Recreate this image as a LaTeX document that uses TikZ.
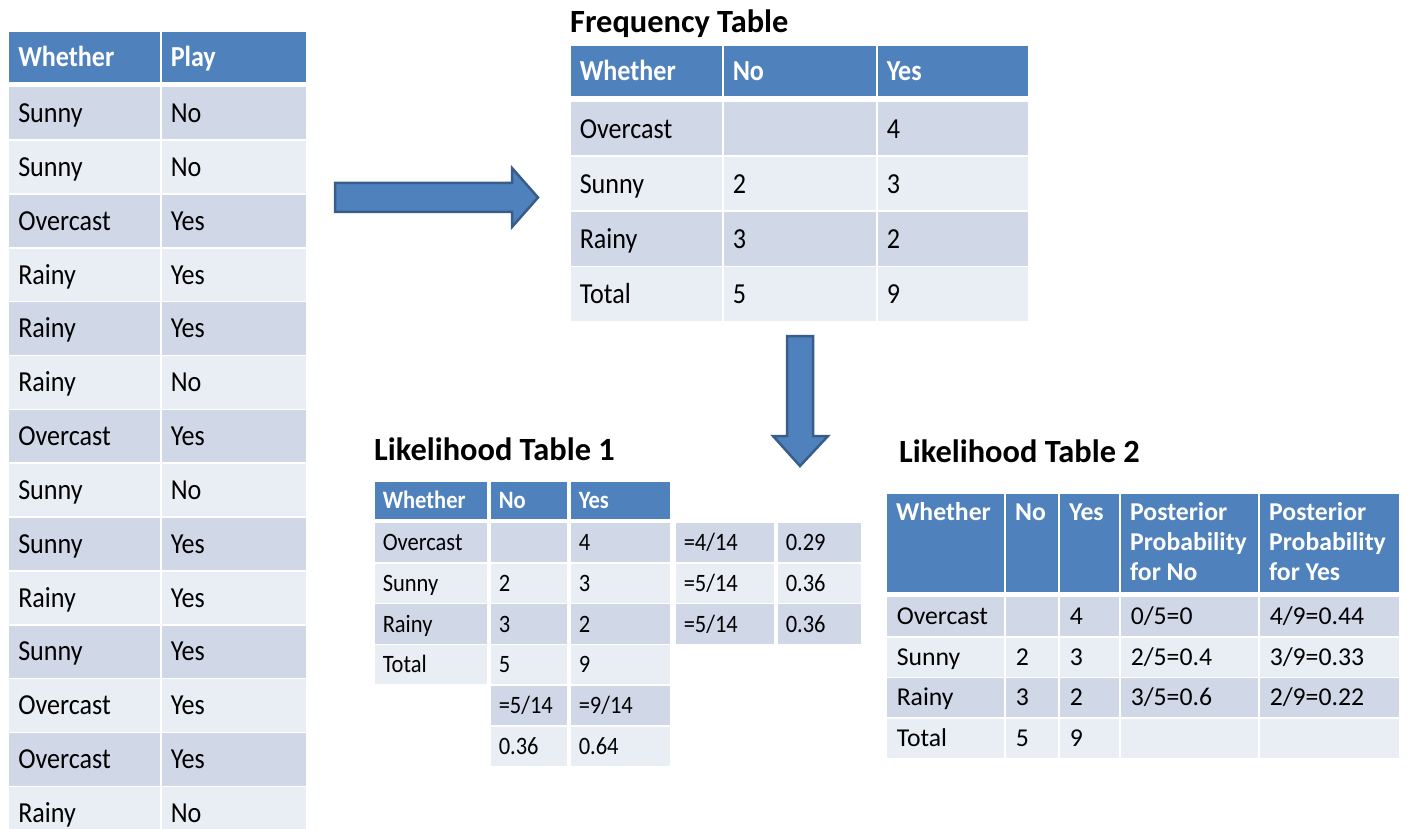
\documentclass[tikz,border=0pt]{standalone}
\usepackage{fontspec}
\setmainfont{Carlito}
\newfontfamily\fS[FakeStretch=0.9]{Carlito}
\definecolor{hdr}{HTML}{4F81BD}
\definecolor{dk}{HTML}{D0D8E8}
\definecolor{lt}{HTML}{E9EDF4}
\definecolor{arrowline}{HTML}{385D8A}
\newcommand{\cel}[7]{%
  \pgfmathsetmacro\ch{#5-#3}%
  \pgfmathsetmacro\tw{#4-#2-20}%
  \node[cell, fill=#6, text width=\tw pt, minimum height=\ch pt] (#1) at (#2,#3) {#7};}
\newcommand{\hd}[1]{{\color{white}\bfseries #1}}
\begin{document}
\begin{tikzpicture}[x=1pt,y=-1pt,
  cell/.style={anchor=north west, draw=white, line width=1.5pt, inner xsep=10pt, inner ysep=0pt, text depth=0pt, align=left},
  title/.style={anchor=base west, inner sep=0pt, font=\bfseries\fontsize{32.4}{36}\selectfont},
  hl/.style={anchor=base west, inner sep=0pt, text=white, font=\bfseries\fontsize{25.7}{30}\selectfont},
  blockarrow/.style={fill=hdr, draw=arrowline, line width=2.5pt, line join=miter}]
\useasboundingbox (0,0) rectangle (1411,829);
\clip (0,0) rectangle (1411,829);

% ---------- left data table ----------
\begin{scope}[cell/.append style={font=\fS\fontsize{29}{32}\selectfont, text height=18.6pt}]
  \cel{LHa}{7.5}{31}{160}{82.5}{hdr}{\hd{Whether}}
  \cel{LHb}{160}{31}{305.5}{82.5}{hdr}{\hd{Play}}
  \foreach \w/\p [count=\i from 0] in {Sunny/No, Sunny/No, Overcast/Yes, Rainy/Yes, Rainy/Yes, Rainy/No, Overcast/Yes, Sunny/No, Sunny/Yes, Rainy/Yes, Sunny/Yes, Overcast/Yes, Overcast/Yes, Rainy/No}{
    \pgfmathsetmacro\ya{85.5+53.85*\i}
    \pgfmathsetmacro\yb{\ya+53.85}
    \ifodd\i \def\rc{lt}\else\def\rc{dk}\fi
    \cel{La\i}{7.5}{\ya}{160}{\yb}{\rc}{\w}
    \cel{Lb\i}{160}{\ya}{305.5}{\yb}{\rc}{\p}
  }
\end{scope}

% ---------- frequency table ----------
\node[title] (tF) at (570,33) {Frequency Table};
\begin{scope}[cell/.append style={font=\fS\fontsize{29}{32}\selectfont, text height=18.6pt}]
  \cel{FHa}{569}{44.5}{722}{96}{hdr}{\hd{Whether}}
  \cel{FHb}{722}{44.5}{876}{96}{hdr}{\hd{No}}
  \cel{FHc}{876}{44.5}{1028}{96}{hdr}{\hd{Yes}}
  \foreach \w/\n/\y [count=\i from 0] in {Overcast//4, Sunny/2/3, Rainy/3/2, Total/5/9}{
    \pgfmathsetmacro\ya{100.5+55*\i}
    \pgfmathsetmacro\yb{\ya+55}
    \ifodd\i \def\rc{lt}\else\def\rc{dk}\fi
    \cel{Fa\i}{569}{\ya}{722}{\yb}{\rc}{\w}
    \cel{Fb\i}{722}{\ya}{876}{\yb}{\rc}{\n}
    \cel{Fc\i}{876}{\ya}{1028}{\yb}{\rc}{\y}
  }
\end{scope}

% ---------- likelihood table 1 ----------
\node[title] (tL1) at (374,460) {Likelihood Table 1};
\begin{scope}[cell/.append style={font=\fS\fontsize{25}{28}\selectfont, text height=16.1pt, inner xsep=9pt}]
  \cel{AHa}{373}{480}{489}{518.5}{hdr}{\hd{Whether}}
  \cel{AHb}{489}{480}{569}{518.5}{hdr}{\hd{No}}
  \cel{AHc}{569}{480}{672}{518.5}{hdr}{\hd{Yes}}
  \foreach \w/\n/\y/\f/\v [count=\i from 0] in {Overcast//4/=4\slash 14/0.29, Sunny/2/3/=5\slash 14/0.36, Rainy/3/2/=5\slash 14/0.36}{
    \pgfmathsetmacro\ya{521.5+40.7*\i}
    \pgfmathsetmacro\yb{\ya+40.7}
    \ifodd\i \def\rc{lt}\else\def\rc{dk}\fi
    \cel{Aa\i}{373}{\ya}{489}{\yb}{\rc}{\w}
    \cel{Ab\i}{489}{\ya}{569}{\yb}{\rc}{\n}
    \cel{Ac\i}{569}{\ya}{672}{\yb}{\rc}{\y}
    \cel{Ad\i}{674}{\ya}{776}{\yb}{\rc}{\f}
    \cel{Ae\i}{776}{\ya}{863}{\yb}{\rc}{\v}
  }
  \cel{Aa3}{373}{643.6}{489}{684.3}{lt}{Total}
  \cel{Ab3}{489}{643.6}{569}{684.3}{lt}{5}
  \cel{Ac3}{569}{643.6}{672}{684.3}{lt}{9}
  \cel{Ab4}{489}{684.3}{569}{725}{dk}{=5/14}
  \cel{Ac4}{569}{684.3}{672}{725}{dk}{=9/14}
  \cel{Ab5}{489}{725}{569}{765.7}{lt}{0.36}
  \cel{Ac5}{569}{725}{672}{765.7}{lt}{0.64}
\end{scope}

% ---------- likelihood table 2 ----------
\node[title] (tL2) at (899,462) {Likelihood Table 2};
\begin{scope}[cell/.append style={font=\fontsize{25.7}{30}\selectfont, text height=16.55pt, inner xsep=11pt}]
  \cel{BHa}{885}{492}{1004}{592}{hdr}{}
  \cel{BHb}{1004}{492}{1058}{592}{hdr}{}
  \cel{BHc}{1058}{492}{1119}{592}{hdr}{}
  \cel{BHd}{1119}{492}{1258}{592}{hdr}{}
  \cel{BHe}{1258}{492}{1397}{592}{hdr}{}
  \foreach \w/\n/\y/\f/\v [count=\i from 0] in {Overcast//4/0\slash 5=0/4\slash 9=0.44, Sunny/2/3/2\slash 5=0.4/3\slash 9=0.33, Rainy/3/2/3\slash 5=0.6/2\slash 9=0.22, Total/5/9//}{
    \pgfmathsetmacro\ya{595.5+40.5*\i}
    \pgfmathsetmacro\yb{\ya+40.5}
    \ifodd\i \def\rc{lt}\else\def\rc{dk}\fi
    \cel{Ba\i}{885}{\ya}{1004}{\yb}{\rc}{\w}
    \cel{Bb\i}{1004}{\ya}{1058}{\yb}{\rc}{\n}
    \cel{Bc\i}{1058}{\ya}{1119}{\yb}{\rc}{\y}
    \cel{Bd\i}{1119}{\ya}{1258}{\yb}{\rc}{\f}
    \cel{Be\i}{1258}{\ya}{1397}{\yb}{\rc}{\v}
  }
\end{scope}
\node[hl] (h2a) at (896,520) {Whether};
\node[hl] (h2b) at (1015,520) {No};
\node[hl] (h2c) at (1069,520) {Yes};
\node[hl] (h2d1) at (1130,520) {Posterior};
\node[hl] (h2d2) at (1130,550) {Probability};
\node[hl] (h2d3) at (1130,580) {for No};
\node[hl] (h2e1) at (1269,520) {Posterior};
\node[hl] (h2e2) at (1269,550) {Probability};
\node[hl] (h2e3) at (1269,580) {for Yes};

% ---------- block arrows ----------
\draw[blockarrow] (335,183) -- (512,183) -- (512,168) -- (538,197.5) -- (512,227) -- (512,212) -- (335,212) -- cycle;
\draw[blockarrow] (787,336) -- (813,336) -- (813,436) -- (828,436) -- (800,466) -- (773,436) -- (787,436) -- cycle;
\end{tikzpicture}
\end{document}
